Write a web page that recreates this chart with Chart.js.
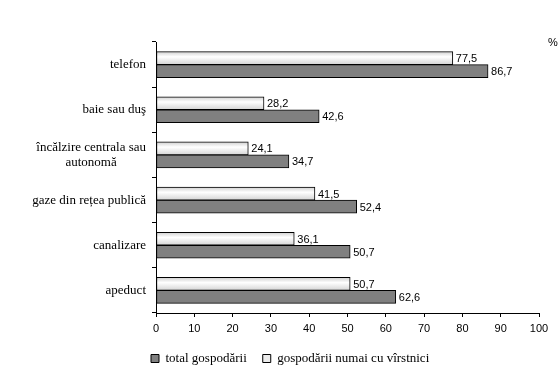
<html>
<head>
    <meta charset="UTF-8">
    <title>Dotare locuinte</title>
    <script src="https://cdn.jsdelivr.net/npm/chart.js"></script>
    <style>
        body { margin: 0; background: #fff; }
    </style>
</head>
<body>
<canvas id="myChart" width="560" height="389"></canvas>

<script>
    // categories, top to bottom
    var categories = ["telefon", "baie sau duş", ["încălzire centrala sau", "autonomă\u00a0\u00a0\u00a0\u00a0\u00a0\u00a0\u00a0\u00a0\u00a0"],
        "gaze din rețea publică", "canalizare", "apeduct"];
    var totalGospodarii = [86.7, 42.6, 34.7, 52.4, 50.7, 62.6];
    var gospodariiVirstnici = [77.5, 28.2, 24.1, 41.5, 36.1, 50.7];
    var xMin = 0, xMax = 100, xStep = 10;

    var serif = "'Liberation Serif', 'Times New Roman', serif";
    var sans = "'Liberation Sans', Arial, sans-serif";

    // light bar: vertical gradient per bar
    function lightFill(context) {
        var chart = context.chart;
        var y = chart.scales.y;
        if (!chart.chartArea || !y) return '#f0f0f0';
        var c = y.getPixelForValue(context.dataIndex);
        var g = chart.ctx.createLinearGradient(0, c - 13, 0, c);
        g.addColorStop(0, '#d0d0d0');
        g.addColorStop(0.4, '#ffffff');
        g.addColorStop(1, '#d4d4d4');
        return g;
    }

    var valueLabels = {
        id: 'valueLabels',
        afterLayout: function (chart) {
            // legend starts under the axis labels, not at the canvas edge
            var lg = chart.legend;
            var w = lg.right - lg.left;
            lg.left = 135;
            lg.right = 135 + w;
        },
        afterDatasetsDraw: function (chart) {
            var ctx = chart.ctx;
            ctx.save();
            ctx.font = '11px ' + sans;
            ctx.fillStyle = '#000';
            ctx.textAlign = 'left';
            ctx.textBaseline = 'middle';
            chart.data.datasets.forEach(function (ds, di) {
                chart.getDatasetMeta(di).data.forEach(function (bar, i) {
                    ctx.fillText(String(ds.data[i]).replace('.', ','), bar.x + 3, bar.y + 1);
                });
            });
            // unit in the top right corner
            ctx.fillText('%', 548, 43);
            ctx.restore();
        }
    };

    var ctx = document.getElementById("myChart");
    var myChart = new Chart(ctx, {
        type: 'bar',
        data: {
            labels: categories,
            datasets: [
                {label: 'gospodării numai cu vîrstnici', data: gospodariiVirstnici, backgroundColor: lightFill,
                    borderColor: '#000', borderWidth: 1, borderSkipped: false, barThickness: 13},
                {label: 'total gospodării', data: totalGospodarii, backgroundColor: '#808080',
                    borderColor: '#000', borderWidth: 1, borderSkipped: false, barThickness: 13}
            ]
        },
        options: {
            indexAxis: 'y',
            responsive: false,
            animation: false,
            devicePixelRatio: 1,
            layout: {padding: {top: 42, right: 21, left: 0, bottom: 14}},
            scales: {
                x: {
                    min: xMin, max: xMax,
                    ticks: {stepSize: xStep, color: '#000', padding: 5, maxRotation: 0, font: {family: sans, size: 11}},
                    grid: {drawOnChartArea: false, tickLength: 4, color: '#000'},
                    border: {color: '#000', width: 1},
                    afterFit: function (scale) { scale.height = 23; }
                },
                y: {
                    ticks: {color: '#000', padding: 6, autoSkip: false, font: {family: serif, size: 13, lineHeight: 1.15}},
                    grid: {drawOnChartArea: false, tickLength: 4, color: '#000'},
                    border: {color: '#000', width: 1},
                    afterFit: function (scale) { scale.width = 156; }
                }
            },
            plugins: {
                tooltip: {enabled: false},
                legend: {
                    position: 'bottom',
                    align: 'start',
                    labels: {
                        boxWidth: 8, boxHeight: 8, padding: 16, color: '#000',
                        font: {family: serif, size: 13},
                        generateLabels: function () {
                            return [
                                {text: 'total gospodării', fillStyle: '#808080', strokeStyle: '#000', lineWidth: 1, datasetIndex: 1},
                                {text: 'gospodării numai cu vîrstnici', fillStyle: '#ececec', strokeStyle: '#000', lineWidth: 1, datasetIndex: 0}
                            ];
                        }
                    }
                }
            }
        },
        plugins: [valueLabels]
    });
</script>
</body>
</html>
